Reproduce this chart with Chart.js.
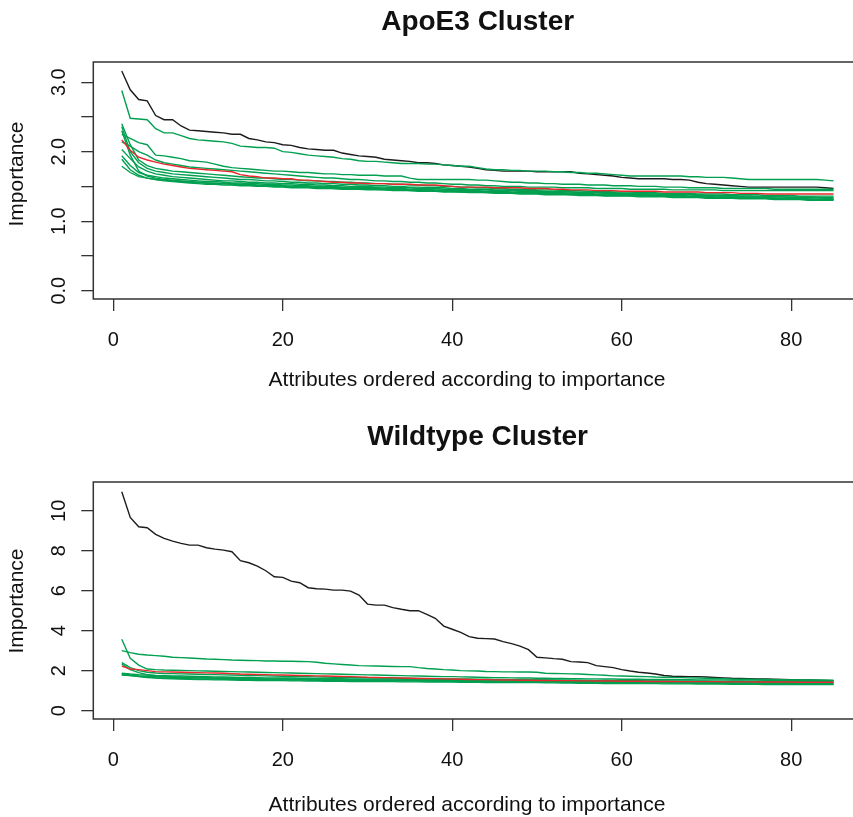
<!DOCTYPE html>
<html>
<head>
<meta charset="utf-8">
<script src="https://cdn.jsdelivr.net/npm/chart.js@4.4.1/dist/chart.umd.min.js"></script>
<style>
  html, body { margin: 0; padding: 0; background: #fff; overflow: hidden; }
  canvas { position: absolute; left: 0; }
  #apoeChart { top: 0; }
  #wildChart { top: 408px; }
</style>
</head>
<body>
<canvas id="apoeChart" width="880" height="408"></canvas>
<canvas id="wildChart" width="880" height="409"></canvas>
<script>
// attribute rank (x axis), 85 attributes
const attrIdx = [
  1,2,3,4,5,6,7,8,9,10,11,12,13,14,15,16,17,18,19,20,
  21,22,23,24,25,26,27,28,29,30,31,32,33,34,35,36,37,38,39,40,
  41,42,43,44,45,46,47,48,49,50,51,52,53,54,55,56,57,58,59,60,
  61,62,63,64,65,66,67,68,69,70,71,72,73,74,75,76,77,78,79,80,
  81,82,83,84,85
];
const xTicks = [0, 20, 40, 60, 80];

// ---- ApoE3 cluster ----
const apoeTicks = [0, 0.5, 1, 1.5, 2, 2.5, 3];
const apoeLabels = [[0, '0.0'], [1, '1.0'], [2, '2.0'], [3, '3.0']];

const apoeBlack = [
  3.16,2.89,2.75,2.73,2.52,2.46,2.46,2.37,2.31,2.30,
  2.29,2.28,2.27,2.25,2.25,2.19,2.17,2.14,2.13,2.10,
  2.09,2.06,2.04,2.03,2.02,2.02,1.98,1.96,1.94,1.93,
  1.92,1.89,1.88,1.87,1.86,1.84,1.84,1.83,1.81,1.80,
  1.79,1.78,1.76,1.74,1.73,1.72,1.72,1.72,1.72,1.71,
  1.71,1.71,1.71,1.71,1.69,1.68,1.67,1.66,1.65,1.63,
  1.62,1.61,1.61,1.61,1.61,1.60,1.60,1.59,1.56,1.54,
  1.53,1.52,1.51,1.50,1.49,1.49,1.49,1.49,1.49,1.49,
  1.49,1.49,1.49,1.48,1.47
];
const apoeRed = [
  2.17,2.02,1.92,1.88,1.85,1.82,1.80,1.78,1.76,1.75,
  1.74,1.73,1.72,1.71,1.67,1.65,1.64,1.62,1.62,1.61,
  1.61,1.59,1.59,1.58,1.57,1.56,1.56,1.55,1.55,1.54,
  1.54,1.54,1.53,1.53,1.53,1.52,1.52,1.52,1.51,1.50,
  1.49,1.49,1.49,1.49,1.48,1.48,1.48,1.48,1.47,1.47,
  1.47,1.46,1.46,1.45,1.45,1.45,1.44,1.44,1.44,1.43,
  1.43,1.43,1.43,1.43,1.42,1.42,1.42,1.42,1.42,1.41,
  1.41,1.41,1.41,1.40,1.40,1.40,1.39,1.39,1.39,1.39,
  1.39,1.39,1.39,1.39,1.39
];
const apoeG1 = [
  2.88,2.48,2.47,2.46,2.33,2.27,2.27,2.23,2.19,2.17,
  2.16,2.15,2.14,2.12,2.08,2.07,2.06,2.06,2.05,2.00,
  1.99,1.97,1.95,1.94,1.93,1.92,1.90,1.89,1.87,1.86,
  1.86,1.85,1.84,1.83,1.83,1.83,1.82,1.82,1.81,1.80,
  1.79,1.79,1.77,1.75,1.74,1.74,1.73,1.73,1.72,1.72,
  1.72,1.71,1.71,1.70,1.70,1.69,1.69,1.68,1.67,1.66,
  1.65,1.65,1.65,1.65,1.65,1.65,1.65,1.64,1.64,1.63,
  1.63,1.63,1.62,1.61,1.60,1.60,1.60,1.60,1.60,1.60,
  1.60,1.60,1.60,1.59,1.58
];
const apoeG2 = [
  2.25,2.19,2.13,2.10,1.95,1.94,1.92,1.90,1.87,1.86,
  1.85,1.82,1.79,1.77,1.76,1.75,1.74,1.73,1.72,1.72,
  1.71,1.70,1.70,1.69,1.68,1.68,1.67,1.67,1.66,1.66,
  1.66,1.65,1.65,1.65,1.62,1.60,1.60,1.60,1.60,1.60,
  1.60,1.60,1.59,1.59,1.58,1.57,1.56,1.56,1.55,1.55,
  1.54,1.54,1.53,1.53,1.53,1.52,1.52,1.52,1.51,1.51,
  1.51,1.50,1.50,1.50,1.49,1.49,1.49,1.48,1.48,1.48,
  1.48,1.47,1.47,1.47,1.47,1.47,1.47,1.46,1.46,1.46,
  1.46,1.46,1.46,1.46,1.46
];
const apoeG3 = [
  2.40,2.10,1.88,1.80,1.76,1.74,1.72,1.71,1.70,1.69,
  1.68,1.67,1.66,1.65,1.64,1.63,1.62,1.62,1.61,1.60,
  1.60,1.59,1.58,1.58,1.57,1.57,1.56,1.56,1.55,1.55,
  1.54,1.54,1.53,1.53,1.52,1.52,1.51,1.51,1.50,1.50,
  1.49,1.49,1.48,1.48,1.47,1.47,1.46,1.46,1.46,1.45,
  1.45,1.45,1.44,1.44,1.44,1.43,1.43,1.43,1.42,1.42,
  1.42,1.41,1.41,1.41,1.40,1.40,1.40,1.40,1.39,1.39,
  1.39,1.39,1.38,1.38,1.38,1.38,1.37,1.37,1.37,1.37,
  1.36,1.36,1.36,1.36,1.36
];
const apoeG4 = [
  2.36,2.00,1.84,1.76,1.72,1.70,1.68,1.67,1.66,1.65,
  1.64,1.63,1.62,1.61,1.60,1.60,1.59,1.58,1.58,1.57,
  1.56,1.56,1.55,1.55,1.54,1.54,1.53,1.53,1.52,1.52,
  1.51,1.51,1.50,1.50,1.49,1.49,1.48,1.48,1.48,1.47,
  1.47,1.46,1.46,1.46,1.45,1.45,1.45,1.44,1.44,1.44,
  1.43,1.43,1.43,1.42,1.42,1.42,1.41,1.41,1.41,1.40,
  1.40,1.40,1.39,1.39,1.39,1.39,1.38,1.38,1.38,1.37,
  1.37,1.37,1.37,1.36,1.36,1.36,1.36,1.35,1.35,1.35,
  1.35,1.35,1.34,1.34,1.34
];
const apoeG5 = [
  2.14,2.08,2.00,1.95,1.88,1.84,1.82,1.80,1.78,1.77,
  1.76,1.75,1.74,1.73,1.72,1.71,1.70,1.69,1.68,1.67,
  1.66,1.65,1.64,1.63,1.62,1.62,1.61,1.60,1.60,1.59,
  1.58,1.58,1.57,1.57,1.56,1.56,1.55,1.55,1.54,1.53,
  1.53,1.52,1.52,1.51,1.51,1.50,1.50,1.50,1.49,1.49,
  1.49,1.49,1.48,1.48,1.48,1.48,1.47,1.47,1.47,1.47,
  1.46,1.46,1.46,1.46,1.46,1.45,1.45,1.45,1.45,1.45,
  1.45,1.44,1.44,1.44,1.44,1.44,1.44,1.44,1.44,1.44,
  1.44,1.44,1.44,1.44,1.44
];
const apoeG6 = [
  2.03,1.90,1.78,1.72,1.68,1.66,1.64,1.63,1.62,1.61,
  1.60,1.59,1.58,1.58,1.57,1.56,1.56,1.55,1.55,1.54,
  1.54,1.53,1.53,1.52,1.52,1.51,1.51,1.50,1.50,1.50,
  1.49,1.49,1.48,1.48,1.48,1.47,1.47,1.47,1.46,1.46,
  1.46,1.45,1.45,1.45,1.44,1.44,1.44,1.43,1.43,1.43,
  1.42,1.42,1.42,1.42,1.41,1.41,1.41,1.40,1.40,1.40,
  1.40,1.39,1.39,1.39,1.38,1.38,1.38,1.38,1.37,1.37,
  1.37,1.36,1.36,1.36,1.36,1.35,1.35,1.35,1.35,1.34,
  1.34,1.34,1.34,1.33,1.33
];
const apoeG7 = [
  1.94,1.80,1.70,1.66,1.64,1.62,1.61,1.60,1.59,1.58,
  1.57,1.57,1.56,1.55,1.55,1.54,1.54,1.53,1.53,1.52,
  1.52,1.51,1.51,1.50,1.50,1.50,1.49,1.49,1.48,1.48,
  1.48,1.47,1.47,1.47,1.46,1.46,1.46,1.45,1.45,1.45,
  1.44,1.44,1.44,1.43,1.43,1.43,1.42,1.42,1.42,1.41,
  1.41,1.41,1.41,1.40,1.40,1.40,1.39,1.39,1.39,1.39,
  1.38,1.38,1.38,1.37,1.37,1.37,1.37,1.36,1.36,1.36,
  1.35,1.35,1.35,1.35,1.34,1.34,1.34,1.33,1.33,1.33,
  1.33,1.32,1.32,1.32,1.32
];
const apoeG8 = [
  1.89,1.74,1.66,1.62,1.60,1.59,1.58,1.57,1.56,1.56,
  1.55,1.55,1.54,1.54,1.53,1.53,1.52,1.52,1.51,1.51,
  1.50,1.50,1.50,1.49,1.49,1.48,1.48,1.48,1.47,1.47,
  1.47,1.46,1.46,1.46,1.45,1.45,1.45,1.44,1.44,1.44,
  1.43,1.43,1.43,1.42,1.42,1.42,1.41,1.41,1.41,1.40,
  1.40,1.40,1.40,1.39,1.39,1.39,1.38,1.38,1.38,1.38,
  1.37,1.37,1.37,1.36,1.36,1.36,1.36,1.35,1.35,1.35,
  1.34,1.34,1.34,1.34,1.33,1.33,1.33,1.32,1.32,1.32,
  1.32,1.31,1.31,1.31,1.31
];
const apoeG9 = [
  1.79,1.70,1.64,1.62,1.60,1.58,1.57,1.56,1.55,1.54,
  1.53,1.53,1.52,1.52,1.51,1.51,1.50,1.50,1.49,1.49,
  1.48,1.48,1.48,1.47,1.47,1.47,1.46,1.46,1.46,1.45,
  1.45,1.45,1.44,1.44,1.44,1.43,1.43,1.43,1.42,1.42,
  1.42,1.41,1.41,1.41,1.40,1.40,1.40,1.39,1.39,1.39,
  1.38,1.38,1.38,1.38,1.37,1.37,1.37,1.36,1.36,1.36,
  1.36,1.35,1.35,1.35,1.35,1.34,1.34,1.34,1.34,1.33,
  1.33,1.33,1.33,1.32,1.32,1.32,1.32,1.31,1.31,1.31,
  1.31,1.30,1.30,1.30,1.30
];
const apoeG10 = [
  2.30,1.95,1.72,1.65,1.62,1.60,1.59,1.58,1.57,1.56,
  1.55,1.54,1.54,1.53,1.52,1.52,1.51,1.51,1.50,1.50,
  1.49,1.49,1.49,1.48,1.48,1.47,1.47,1.47,1.46,1.46,
  1.46,1.45,1.45,1.45,1.44,1.44,1.44,1.43,1.43,1.43,
  1.42,1.42,1.42,1.41,1.41,1.41,1.40,1.40,1.40,1.40,
  1.39,1.39,1.39,1.38,1.38,1.38,1.38,1.37,1.37,1.37,
  1.37,1.36,1.36,1.36,1.36,1.35,1.35,1.35,1.35,1.34,
  1.34,1.34,1.34,1.33,1.33,1.33,1.33,1.33,1.32,1.32,
  1.32,1.32,1.31,1.31,1.31
];
const apoeGreens = [apoeG1, apoeG2, apoeG3, apoeG4, apoeG5, apoeG6, apoeG7, apoeG8, apoeG9, apoeG10];

// ---- Wildtype cluster ----
const wildTicks = [0, 2, 4, 6, 8, 10];
const wildLabels = [[0, '0'], [2, '2'], [4, '4'], [6, '6'], [8, '8'], [10, '10']];

const wildBlack = [
  10.95,9.67,9.20,9.15,8.82,8.62,8.48,8.37,8.28,8.28,
  8.15,8.08,8.03,7.95,7.50,7.40,7.23,7.00,6.70,6.67,
  6.48,6.40,6.15,6.10,6.08,6.03,6.03,5.98,5.78,5.33,
  5.28,5.28,5.15,5.07,5.00,5.00,4.82,4.62,4.23,4.07,
  3.92,3.70,3.62,3.60,3.58,3.45,3.35,3.23,3.05,2.67,
  2.64,2.60,2.57,2.45,2.43,2.40,2.25,2.20,2.15,2.05,
  1.98,1.92,1.88,1.83,1.76,1.72,1.71,1.70,1.70,1.68,
  1.66,1.64,1.62,1.61,1.60,1.59,1.58,1.57,1.56,1.55,
  1.54,1.53,1.52,1.51,1.50
];
const wildRed = [
  2.23,2.08,2.05,2.00,1.95,1.94,1.93,1.92,1.91,1.90,
  1.89,1.88,1.87,1.85,1.83,1.82,1.81,1.80,1.79,1.78,
  1.77,1.76,1.75,1.74,1.73,1.72,1.71,1.70,1.69,1.67,
  1.66,1.65,1.64,1.63,1.62,1.61,1.61,1.60,1.59,1.58,
  1.57,1.56,1.55,1.55,1.54,1.53,1.53,1.52,1.52,1.51,
  1.51,1.50,1.50,1.50,1.49,1.49,1.48,1.48,1.48,1.47,
  1.47,1.47,1.46,1.46,1.46,1.46,1.45,1.45,1.45,1.45,
  1.45,1.44,1.44,1.44,1.44,1.43,1.43,1.43,1.43,1.43,
  1.42,1.42,1.42,1.42,1.42
];
const wildG1 = [
  3.57,2.62,2.28,2.08,2.05,2.03,2.02,2.01,2.00,1.99,
  1.98,1.97,1.96,1.95,1.94,1.93,1.92,1.91,1.90,1.89,
  1.88,1.87,1.86,1.85,1.84,1.83,1.82,1.81,1.80,1.79,
  1.78,1.77,1.76,1.75,1.74,1.73,1.72,1.71,1.70,1.70,
  1.69,1.68,1.67,1.66,1.65,1.65,1.64,1.63,1.63,1.62,
  1.62,1.61,1.61,1.60,1.60,1.59,1.59,1.58,1.58,1.57,
  1.57,1.57,1.56,1.56,1.56,1.55,1.55,1.55,1.54,1.54,
  1.54,1.54,1.53,1.53,1.53,1.53,1.52,1.52,1.52,1.52,
  1.52,1.52,1.52,1.52,1.52
];
const wildG2 = [
  3.00,2.90,2.82,2.78,2.75,2.72,2.67,2.65,2.63,2.61,
  2.58,2.57,2.55,2.53,2.52,2.51,2.50,2.48,2.48,2.47,
  2.47,2.46,2.45,2.42,2.37,2.34,2.31,2.28,2.25,2.24,
  2.23,2.22,2.21,2.20,2.20,2.15,2.11,2.08,2.05,2.03,
  2.00,1.99,1.98,1.96,1.95,1.94,1.94,1.93,1.93,1.92,
  1.87,1.86,1.85,1.84,1.83,1.81,1.79,1.77,1.74,1.73,
  1.72,1.71,1.70,1.68,1.67,1.66,1.65,1.64,1.63,1.62,
  1.61,1.60,1.58,1.57,1.57,1.56,1.56,1.55,1.55,1.54,
  1.53,1.52,1.52,1.51,1.50
];
const wildG3 = [
  2.40,2.15,2.00,1.92,1.88,1.86,1.85,1.84,1.83,1.82,
  1.81,1.80,1.79,1.78,1.77,1.76,1.75,1.74,1.73,1.72,
  1.71,1.70,1.70,1.69,1.68,1.67,1.67,1.66,1.65,1.65,
  1.64,1.63,1.63,1.62,1.62,1.61,1.60,1.60,1.59,1.59,
  1.58,1.58,1.57,1.57,1.56,1.56,1.55,1.55,1.54,1.54,
  1.53,1.53,1.52,1.52,1.51,1.51,1.50,1.50,1.49,1.49,
  1.48,1.48,1.47,1.47,1.47,1.46,1.46,1.46,1.45,1.45,
  1.45,1.44,1.44,1.44,1.43,1.43,1.43,1.42,1.42,1.42,
  1.41,1.41,1.41,1.40,1.40
];
const wildG4 = [
  2.33,2.05,1.90,1.80,1.75,1.72,1.70,1.68,1.67,1.66,
  1.65,1.64,1.63,1.62,1.61,1.60,1.60,1.59,1.58,1.58,
  1.57,1.57,1.56,1.56,1.55,1.55,1.54,1.54,1.53,1.53,
  1.52,1.52,1.51,1.51,1.50,1.50,1.50,1.49,1.49,1.49,
  1.48,1.48,1.48,1.47,1.47,1.47,1.46,1.46,1.46,1.45,
  1.45,1.45,1.44,1.44,1.44,1.43,1.43,1.43,1.42,1.42,
  1.42,1.41,1.41,1.41,1.40,1.40,1.40,1.39,1.39,1.39,
  1.38,1.38,1.38,1.37,1.37,1.37,1.36,1.36,1.36,1.35,
  1.35,1.35,1.34,1.34,1.34
];
const wildG5 = [
  1.87,1.83,1.80,1.78,1.76,1.75,1.74,1.73,1.72,1.71,
  1.70,1.69,1.68,1.67,1.66,1.66,1.65,1.64,1.64,1.63,
  1.63,1.62,1.62,1.61,1.61,1.60,1.60,1.59,1.59,1.59,
  1.58,1.58,1.58,1.57,1.57,1.57,1.56,1.56,1.56,1.55,
  1.55,1.55,1.55,1.54,1.54,1.54,1.54,1.53,1.53,1.53,
  1.53,1.52,1.52,1.52,1.52,1.51,1.51,1.51,1.50,1.50,
  1.50,1.50,1.49,1.49,1.49,1.49,1.48,1.48,1.48,1.48,
  1.47,1.47,1.47,1.47,1.46,1.46,1.46,1.46,1.46,1.45,
  1.45,1.45,1.45,1.45,1.45
];
const wildG6 = [
  1.80,1.75,1.70,1.66,1.63,1.61,1.59,1.58,1.57,1.56,
  1.55,1.54,1.54,1.53,1.52,1.52,1.51,1.51,1.50,1.50,
  1.49,1.49,1.48,1.48,1.47,1.47,1.47,1.46,1.46,1.46,
  1.45,1.45,1.45,1.44,1.44,1.44,1.43,1.43,1.43,1.43,
  1.42,1.42,1.42,1.41,1.41,1.41,1.41,1.40,1.40,1.40,
  1.39,1.39,1.38,1.38,1.37,1.37,1.37,1.36,1.36,1.36,
  1.35,1.35,1.35,1.35,1.34,1.34,1.34,1.34,1.33,1.33,
  1.33,1.33,1.32,1.32,1.32,1.32,1.31,1.31,1.31,1.31,
  1.30,1.30,1.30,1.30,1.30
];
const wildG7 = [
  1.85,1.78,1.72,1.68,1.65,1.63,1.62,1.61,1.60,1.59,
  1.58,1.58,1.57,1.57,1.56,1.56,1.55,1.55,1.54,1.54,
  1.53,1.53,1.53,1.52,1.52,1.52,1.51,1.51,1.51,1.50,
  1.50,1.50,1.49,1.49,1.49,1.48,1.48,1.48,1.47,1.47,
  1.47,1.46,1.46,1.46,1.45,1.45,1.45,1.44,1.44,1.44,
  1.43,1.43,1.43,1.42,1.42,1.42,1.41,1.41,1.41,1.40,
  1.40,1.40,1.39,1.39,1.39,1.38,1.38,1.38,1.37,1.37,
  1.37,1.36,1.36,1.36,1.35,1.35,1.35,1.34,1.34,1.34,
  1.33,1.33,1.33,1.32,1.32
];
const wildG8 = [
  1.78,1.76,1.74,1.72,1.70,1.68,1.67,1.66,1.65,1.64,
  1.63,1.62,1.62,1.61,1.60,1.60,1.59,1.59,1.58,1.58,
  1.57,1.57,1.56,1.56,1.55,1.55,1.55,1.54,1.54,1.54,
  1.53,1.53,1.53,1.52,1.52,1.52,1.51,1.51,1.51,1.51,
  1.50,1.50,1.50,1.49,1.49,1.49,1.48,1.48,1.48,1.47,
  1.47,1.47,1.46,1.46,1.46,1.45,1.45,1.45,1.44,1.44,
  1.44,1.43,1.43,1.43,1.42,1.42,1.42,1.41,1.41,1.41,
  1.40,1.40,1.40,1.39,1.39,1.39,1.38,1.38,1.38,1.37,
  1.37,1.37,1.36,1.36,1.36
];
const wildGreens = [wildG1, wildG2, wildG3, wildG4, wildG5, wildG6, wildG7, wildG8];

const GREEN = 'rgb(0,160,80)';
const RED = 'rgb(232,40,44)';
const BLACK = '#1c1c1c';
const FONT = '"Liberation Sans", Arial, Helvetica, sans-serif';

function line(values, color) {
  return {
    data: values.map((v, i) => ({ x: attrIdx[i], y: v })),
    borderColor: color,
    borderWidth: 1.4,
    pointRadius: 0,
    fill: false,
    tension: 0
  };
}

// R style box, tick labels and titles
const rFrame = {
  id: 'rFrame',
  afterDraw(chart, args, o) {
    const { ctx, chartArea: a } = chart;
    const x = chart.scales.x, y = chart.scales.y;
    ctx.save();
    ctx.strokeStyle = '#333';
    ctx.lineWidth = 1.5;
    ctx.strokeRect(a.left, a.top, a.right - a.left, a.bottom - a.top);

    ctx.fillStyle = '#111';
    ctx.textAlign = 'center';
    ctx.textBaseline = 'middle';
    ctx.font = '20px ' + FONT;
    xTicks.forEach(v => ctx.fillText(String(v), x.getPixelForValue(v), a.bottom + 41));
    o.yLabels.forEach(([v, t]) => {
      ctx.save();
      ctx.translate(59, y.getPixelForValue(v));
      ctx.rotate(-Math.PI / 2);
      ctx.fillText(t, 0, 0);
      ctx.restore();
    });

    ctx.font = '21px ' + FONT;
    ctx.fillText('Attributes ordered according to importance', 467, o.xTitleY);
    ctx.save();
    ctx.translate(17, o.yTitleY);
    ctx.rotate(-Math.PI / 2);
    ctx.fillText('Importance', 0, 0);
    ctx.restore();

    ctx.font = 'bold 28px ' + FONT;
    ctx.fillText(o.title, (a.left + a.right) / 2, o.titleY);
    ctx.restore();
  }
};

function makeChart(id, black, red, greens, yMin, yMax, yTicks, frame, top, xHeight) {
  const datasets = [line(red, RED)];
  greens.forEach(g => datasets.push(line(g, GREEN)));
  datasets.push(line(black, BLACK));
  const tickGrid = { drawOnChartArea: false, drawTicks: true, tickLength: 12, color: '#333', lineWidth: 1.3 };
  return new Chart(document.getElementById(id), {
    type: 'line',
    data: { datasets },
    options: {
      responsive: false,
      animation: false,
      devicePixelRatio: 1,
      layout: { padding: { top: top, right: 18, left: 0, bottom: 0 }, autoPadding: false },
      plugins: { legend: { display: false }, tooltip: { enabled: false }, rFrame: frame },
      scales: {
        x: {
          type: 'linear', min: -2.36, max: 88.36,
          grid: tickGrid, border: { display: false },
          ticks: { display: false },
          afterBuildTicks: s => { s.ticks = xTicks.map(v => ({ value: v })); },
          afterFit: s => { s.height = xHeight; }
        },
        y: {
          type: 'linear', min: yMin, max: yMax,
          grid: tickGrid, border: { display: false },
          ticks: { display: false },
          afterBuildTicks: s => { s.ticks = yTicks.map(v => ({ value: v })); },
          afterFit: s => { s.width = 93.3; }
        }
      }
    },
    plugins: [rFrame]
  });
}

makeChart('apoeChart', apoeBlack, apoeRed, apoeGreens, -0.12, 3.29, apoeTicks,
  { title: 'ApoE3 Cluster', titleY: 22, xTitleY: 380, yTitleY: 174, yLabels: apoeLabels }, 62, 109);
makeChart('wildChart', wildBlack, wildRed, wildGreens, -0.42, 11.44, wildTicks,
  { title: 'Wildtype Cluster', titleY: 29.5, xTitleY: 397, yTitleY: 193, yLabels: wildLabels }, 74, 98);
</script>
</body>
</html>
